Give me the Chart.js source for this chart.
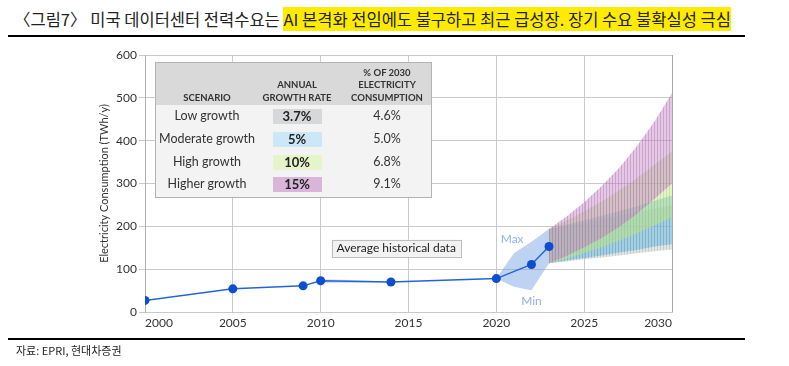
<!DOCTYPE html>
<html>
<head>
<meta charset="utf-8">
<script src="https://cdn.jsdelivr.net/npm/chart.js@4.4.0/dist/chart.umd.min.js"></script>
<style>
  body { margin: 0; width: 789px; height: 366px; background: #fff; position: relative; overflow: hidden; font-family: Lato, sans-serif; }
  #title { position: absolute; left: 14px; top: 8px; font-size: 16.5px; font-family: "Noto Sans CJK KR", sans-serif; color: #222; white-space: nowrap; line-height: 23px; }
  #title .hl { background: #ffeb00; }
  .rule { position: absolute; left: 8px; width: 737px; height: 2px; background: #000; }
  #src { position: absolute; left: 16px; top: 342px; font-size: 11px; font-family: "Noto Sans CJK KR", sans-serif; color: #222; }
  #wrap { position: absolute; left: 0; top: 0; width: 789px; height: 366px; }
  #tbl { position: absolute; left: 155px; top: 62px; width: 275px; height: 134px; border: 1px solid #b3b3b3; background: #f3f3f3; }
  #tbl .head { position: absolute; left: 0; top: 0; width: 275px; height: 42px; background: #d9d9d9; }
  #tbl .t { position: absolute; width: 130px; text-align: center; line-height: 14px; color: #333; white-space: nowrap; }
  #tbl .h { font-size: 9.5px; font-weight: bold; }
  #tbl .r { font-size: 12.5px; }
  #tbl .cell { position: absolute; left: 117px; width: 49px; height: 15px; }
  #tbl .g { font-size: 13px; font-weight: bold; color: #222; }
</style>
</head>
<body>
<div id="title">〈그림7〉 미국 데이터센터 전력수요는 <span class="hl">AI 본격화 전임에도 불구하고 최근 급성장. 장기 수요 불확실성 극심</span></div>
<div class="rule" style="top:35px"></div>
<div id="wrap"><canvas id="chart-1"></canvas></div>
<div id="tbl"><div class="head"></div></div>
<div class="rule" style="top:338px"></div>
<div id="src">자료: EPRI, 현대차증권</div>
<script>
// historical consumption (TWh/y)
const histYears = [2000, 2005, 2009, 2010, 2014, 2020, 2022, 2023];
const histValues = [27, 54, 61, 73, 70, 78, 111, 153];
// thin spread around the 2010-2014 average
const avgYears = [2010, 2014];
const avgHigh = [77, 71];
const avgLow = [67, 69];
// max / min envelope of recent estimates
const rangeYears = [2020, 2021, 2022, 2023];
const rangeMax = [78, 137, 164, 194];
const rangeMin = [78, 59, 51, 114];
// projections 2023-2030, low and high edge per scenario
const projYears = [2023, 2024, 2025, 2026, 2027, 2028, 2029, 2030];
const lowGrowthHi = [194, 201, 209, 217, 224, 233, 241, 250];
const lowGrowthLo = [114, 118, 123, 127, 132, 137, 142, 146];
const modGrowthHi = [194, 204, 214, 225, 236, 247, 260, 272];
const modGrowthLo = [114, 120, 126, 132, 139, 145, 153, 158];
const highGrowthHi = [194, 213, 235, 258, 284, 312, 344, 376];
const highGrowthLo = [114, 125, 138, 152, 167, 184, 202, 221];
const higherGrowthHi = [194, 223, 256, 294, 337, 387, 445, 511];
const higherGrowthLo = [114, 131, 151, 173, 199, 229, 264, 300];
const yTicks = [0, 100, 200, 300, 400, 500, 600];

// table
const scenarios = ["Low growth", "Moderate growth", "High growth", "Higher growth"];
const growthRates = ["3.7%", "5%", "10%", "15%"];
const share2030 = ["4.6%", "5.0%", "6.8%", "9.1%"];
const rateColors = ["#d6d8da", "#cce8f8", "#e5f4c9", "#d9b5d9"];

const tbl = document.getElementById("tbl");
function addText(cls, text, cx, cy) {
  const d = document.createElement("div");
  d.className = "t " + cls;
  d.textContent = text;
  d.style.left = (cx - 65) + "px";
  d.style.top = (cy - 7) + "px";
  tbl.appendChild(d);
}
addText("h", "SCENARIO", 51, 35);
addText("h", "ANNUAL", 141, 22);
addText("h", "GROWTH RATE", 141, 35);
addText("h", "% OF 2030", 231, 10);
addText("h", "ELECTRICITY", 231, 22);
addText("h", "CONSUMPTION", 231, 35);
const rowY = [53, 76, 99, 121];
scenarios.forEach((s, i) => {
  const c = document.createElement("div");
  c.className = "cell";
  c.style.top = (rowY[i] - 7.5) + "px";
  c.style.background = rateColors[i];
  tbl.appendChild(c);
  addText("r", s, 51, rowY[i]);
  addText("g", growthRates[i], 141, rowY[i]);
  addText("r", share2030[i], 231, rowY[i]);
});

function hatch(r, g, b, a) {
  const c = document.createElement("canvas");
  c.width = 3; c.height = 1;
  const x = c.getContext("2d");
  x.fillStyle = `rgba(${r},${g},${b},${a})`;
  x.fillRect(0, 0, 3, 1);
  x.fillStyle = `rgba(${Math.round(r * 0.9)},${Math.round(g * 0.9)},${Math.round(b * 0.9)},${a})`;
  x.fillRect(0, 0, 1, 1);
  return x.createPattern(c, "repeat");
}
const pts = (xs, ys) => xs.map((x, i) => ({ x: x, y: ys[i] }));
const edge = { borderWidth: 0, pointRadius: 0, fill: false };

const labelsPlugin = {
  id: "labels",
  afterDatasetsDraw(chart) {
    const { ctx, scales: { x, y }, chartArea } = chart;
    ctx.save();
    ctx.strokeStyle = "#a8a8a8";
    ctx.lineWidth = 1;
    ctx.beginPath();
    ctx.moveTo(chartArea.right + 0.5, chartArea.top);
    ctx.lineTo(chartArea.right + 0.5, chartArea.bottom);
    ctx.stroke();
    ctx.font = "12px Lato, sans-serif";
    ctx.textAlign = "center";
    ctx.textBaseline = "middle";
    ctx.fillStyle = "#8fb1e8";
    ctx.fillText("Max", x.getPixelForValue(2020.9), y.getPixelForValue(170));
    ctx.fillText("Min", x.getPixelForValue(2022), y.getPixelForValue(26));
    const t = "Average historical data";
    const cx = x.getPixelForValue(2014.3), cy = y.getPixelForValue(149);
    const w = ctx.measureText(t).width + 10;
    ctx.fillStyle = "#f2f2f2";
    ctx.fillRect(cx - w / 2, cy - 8.5, w, 17);
    ctx.strokeStyle = "#bdbdbd";
    ctx.strokeRect(Math.round(cx - w / 2) + 0.5, Math.round(cy - 8.5) + 0.5, Math.round(w), 17);
    ctx.fillStyle = "#222";
    ctx.fillText(t, cx, cy);
    ctx.restore();
  }
};

new Chart(document.getElementById("chart-1"), {
  type: "line",
  data: {
    datasets: [
      {
        data: pts(histYears, histValues),
        borderColor: "#2563d8",
        borderWidth: 1.5,
        pointRadius: 4.5,
        pointBackgroundColor: "#0b4fd0",
        pointBorderWidth: 0,
        fill: false,
        order: 0
      },
      { ...edge, data: pts(avgYears, avgLow), order: 2 },
      { ...edge, data: pts(avgYears, avgHigh), fill: "-1", backgroundColor: "rgba(120,160,225,0.35)", order: 2 },
      { ...edge, data: pts(rangeYears, rangeMin), order: 3 },
      { ...edge, data: pts(rangeYears, rangeMax), fill: "-1", backgroundColor: "rgba(110,155,225,0.45)", order: 3 },
      { ...edge, data: pts(projYears, higherGrowthLo), order: 4 },
      { ...edge, data: pts(projYears, higherGrowthHi), fill: "-1", backgroundColor: hatch(190, 125, 195, 0.42), order: 4 },
      { ...edge, data: pts(projYears, highGrowthLo), order: 5 },
      { ...edge, data: pts(projYears, highGrowthHi), fill: "-1", backgroundColor: hatch(190, 230, 130, 0.45), order: 5 },
      { ...edge, data: pts(projYears, modGrowthLo), order: 6 },
      { ...edge, data: pts(projYears, modGrowthHi), fill: "-1", backgroundColor: hatch(105, 185, 222, 0.5), order: 6 },
      { ...edge, data: pts(projYears, lowGrowthLo), order: 7 },
      { ...edge, data: pts(projYears, lowGrowthHi), fill: "-1", backgroundColor: hatch(190, 195, 196, 0.45), order: 7 }
    ]
  },
  options: {
    responsive: true,
    maintainAspectRatio: false,
    animation: false,
    layout: { padding: { top: 55, right: 117, left: 96, bottom: 32 } },
    plugins: { legend: { display: false }, tooltip: { enabled: false } },
    scales: {
      x: {
        type: "linear",
        min: 2000,
        max: 2030,
        afterFit: s => { s.height = 22; },
        grid: { color: "#c9c9c9", drawTicks: false },
        border: { color: "#c9c9c9" },
        ticks: {
          stepSize: 5,
          align: "inner",
          padding: 4,
          color: "#333",
          font: { size: 12, family: "Lato, sans-serif" },
          callback: v => String(v)
        }
      },
      y: {
        min: 0,
        max: 600,
        afterFit: s => { s.width = 49; },
        afterBuildTicks: s => { s.ticks = yTicks.map(v => ({ value: v })); },
        grid: { color: "#c9c9c9", tickLength: 6 },
        border: { color: "#b0b0b0" },
        ticks: {
          padding: 2,
          color: "#333",
          font: { size: 12, family: "Lato, sans-serif" }
        },
        title: {
          display: true,
          text: "Electricity Consumption (TWh/y)",
          color: "#333",
          font: { size: 11, family: "Lato, sans-serif" },
          padding: { top: 2, bottom: 0 }
        }
      }
    }
  },
  plugins: [labelsPlugin]
});
</script>
</body>
</html>
